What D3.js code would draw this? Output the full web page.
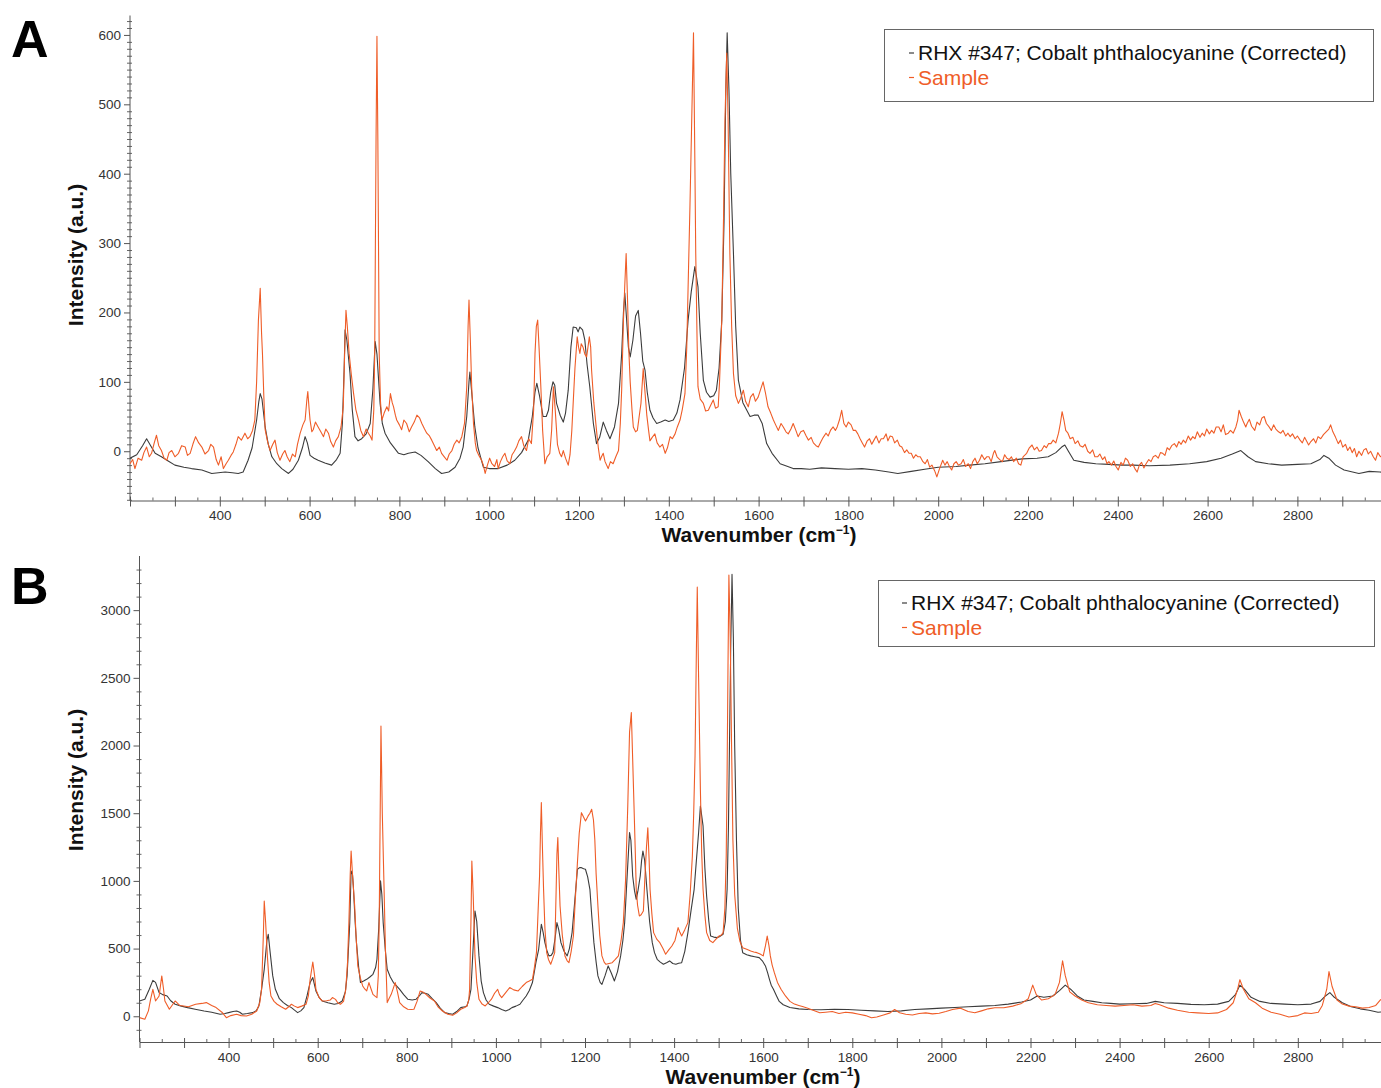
<!DOCTYPE html>
<html>
<head>
<meta charset="utf-8">
<script src="https://cdn.jsdelivr.net/npm/d3@7"></script>
<style>
  html, body { margin: 0; padding: 0; background: #fff; overflow: hidden; }
  svg { display: block; font-family: "Liberation Sans", Arial, Helvetica, sans-serif; }
</style>
</head>
<body>
<svg id="chart" width="1381" height="1088"></svg>
<script>
// ---------------- DATA ----------------
const seriesNames = ["RHX #347; Cobalt phthalocyanine (Corrected)", "Sample"];
const xAxisTitle = "Wavenumber (cm";
const yAxisTitle = "Intensity (a.u.)";
const panelLabels = ["A", "B"];
const xDomain = [200, 3000];
const xMajorTicks = [200,300,400,500,600,700,800,900,1000,1100,1200,1300,1400,1500,1600,1700,1800,1900,2000,2100,2200,2300,2400,2500,2600,2700,2800,2900,3000];
const xTickLabels = [400,600,800,1000,1200,1400,1600,1800,2000,2200,2400,2600,2800];
const aYTickLabels = [0,100,200,300,400,500,600];
const bYTickLabels = [0,500,1000,1500,2000,2500,3000];
const aYDomain = [-71, 628];
const bYDomain = [-190, 3400];

// Panel A, reference spectrum (black): [wavenumber, intensity]
const aRef = [[200,-10],[215,-5],[228,8],[237,18],[246,8],[256,-3],[270,-8],[285,-14],[300,-20],[320,-23],[337,-25],[360,-27],[382,-32],[397,-31],[412,-30],[428,-31],[441,-32],[452,-30],[463,-13],[472,5],[482,45],[487,72],[490,83],[494,75],[501,35],[508,10],[516,-8],[527,-18],[538,-25],[553,-32],[563,-26],[575,-13],[584,5],[590,21],[595,12],[601,-6],[610,-10],[619,-13],[634,-17],[649,-20],[660,-12],[668,-3],[673,40],[677,120],[679,175],[683,160],[690,112],[695,60],[701,21],[708,15],[716,18],[726,25],[735,40],[741,90],[746,158],[750,140],[757,69],[762,40],[768,26],[780,12],[798,-3],[810,-5],[820,-3],[835,-1],[848,-6],[864,-15],[880,-25],[894,-32],[910,-30],[924,-23],[935,-10],[942,6],[950,50],[955,100],[957,114],[961,85],[968,35],[975,5],[987,-23],[1000,-25],[1020,-25],[1040,-20],[1057,-13],[1072,-2],[1087,16],[1096,50],[1102,85],[1106,98],[1112,80],[1120,50],[1127,50],[1132,59],[1137,85],[1142,100],[1146,95],[1150,69],[1158,52],[1165,42],[1170,55],[1176,88],[1182,150],[1187,179],[1194,178],[1198,172],[1202,179],[1208,175],[1213,160],[1218,125],[1224,93],[1232,40],[1239,11],[1246,20],[1254,42],[1261,30],[1269,18],[1279,35],[1288,69],[1295,140],[1299,200],[1302,228],[1306,190],[1310,150],[1314,136],[1320,160],[1326,195],[1332,203],[1337,170],[1342,130],[1347,117],[1352,85],[1358,59],[1365,48],[1373,40],[1382,42],[1392,45],[1400,43],[1410,45],[1418,55],[1425,74],[1435,120],[1443,189],[1450,230],[1458,266],[1462,250],[1465,237],[1470,170],[1477,102],[1484,85],[1492,78],[1500,80],[1506,88],[1512,120],[1518,189],[1523,330],[1527,520],[1530,603],[1534,520],[1538,400],[1544,285],[1549,180],[1555,102],[1565,70],[1581,50],[1590,52],[1599,52],[1608,40],[1618,11],[1630,-3],[1648,-18],[1665,-22],[1677,-25],[1695,-25],[1714,-26],[1740,-24],[1770,-25],[1800,-26],[1830,-25],[1860,-27],[1890,-30],[1910,-32],[1940,-29],[1970,-26],[2000,-23],[2040,-22],[2070,-20],[2104,-18],[2140,-15],[2187,-11],[2220,-10],[2245,-8],[2262,-2],[2275,6],[2282,9],[2290,0],[2302,-13],[2325,-16],[2351,-18],[2380,-19],[2410,-20],[2434,-20],[2470,-21],[2516,-20],[2560,-18],[2598,-15],[2630,-10],[2655,-4],[2674,1],[2690,-8],[2707,-15],[2735,-18],[2765,-20],[2800,-19],[2830,-18],[2850,-12],[2859,-6],[2870,-10],[2885,-20],[2904,-27],[2937,-32],[2960,-29],[2984,-30],[3000,-31]];

// Panel A, sample spectrum (orange)
const aSam = [[200,-18],[206,-12],[211,-25],[218,-10],[226,-13],[231,-2],[237,6],[243,-8],[248,-3],[254,12],[259,23],[264,8],[270,1],[276,-10],[282,-13],[287,-2],[293,1],[300,-8],[308,-3],[315,8],[323,6],[328,-6],[334,-3],[340,10],[346,21],[353,12],[360,6],[367,-4],[375,1],[380,10],[386,6],[392,-12],[397,-20],[403,-8],[408,-25],[414,-18],[419,-13],[425,-6],[430,-1],[436,10],[441,21],[448,16],[456,26],[462,18],[467,21],[473,30],[478,45],[482,100],[486,189],[490,235],[493,170],[495,141],[498,80],[501,31],[506,15],[512,1],[518,10],[523,16],[528,-2],[534,-13],[540,-4],[545,1],[550,-8],[556,-15],[562,-4],[568,-8],[573,10],[579,26],[585,38],[590,45],[594,75],[596,86],[599,60],[601,45],[605,28],[608,31],[613,42],[619,35],[625,28],[631,21],[636,32],[642,26],[647,14],[653,6],[658,15],[664,21],[670,35],[675,64],[678,140],[681,203],[684,180],[688,141],[693,110],[698,83],[703,60],[709,45],[714,30],[720,21],[726,32],[731,26],[735,22],[739,16],[743,60],[745,141],[748,450],[750,598],[752,450],[755,141],[758,70],[761,45],[766,55],[772,64],[776,58],[780,83],[784,70],[787,64],[791,52],[794,45],[800,38],[805,31],[810,45],[816,40],[822,28],[827,35],[833,42],[839,52],[845,48],[850,40],[856,32],[861,26],[867,22],[872,16],[878,8],[883,1],[889,6],[894,-3],[900,-8],[906,-13],[911,-4],[917,1],[922,10],[928,16],[933,12],[939,21],[945,40],[950,93],[953,180],[955,218],[958,160],[961,93],[965,40],[969,12],[972,1],[977,-6],[983,-13],[987,-20],[991,-32],[996,-20],[1001,-10],[1006,-18],[1012,-22],[1017,-12],[1020,-25],[1025,-15],[1030,-8],[1035,-3],[1040,-14],[1046,-18],[1051,-5],[1056,0],[1061,6],[1066,15],[1072,21],[1077,8],[1083,1],[1088,18],[1094,11],[1099,60],[1102,141],[1105,180],[1108,189],[1111,150],[1115,93],[1119,30],[1124,-18],[1129,-8],[1135,-3],[1139,30],[1143,93],[1147,60],[1152,10],[1157,-3],[1161,-8],[1165,1],[1170,-10],[1176,-20],[1180,-5],[1184,30],[1187,69],[1191,120],[1196,165],[1199,150],[1202,141],[1205,155],[1209,150],[1213,140],[1217,136],[1220,150],[1223,165],[1226,150],[1228,117],[1233,70],[1239,30],[1243,5],[1247,-13],[1250,-8],[1254,-3],[1258,-15],[1265,-25],[1270,-15],[1276,-18],[1282,-8],[1288,1],[1292,40],[1295,88],[1299,189],[1302,240],[1305,285],[1308,220],[1311,145],[1314,100],[1318,60],[1321,35],[1326,28],[1330,30],[1334,50],[1338,69],[1343,119],[1347,85],[1351,52],[1355,30],[1358,15],[1363,20],[1369,25],[1374,12],[1380,6],[1386,10],[1392,-3],[1397,5],[1403,21],[1408,18],[1414,25],[1419,35],[1425,45],[1430,60],[1436,83],[1440,150],[1443,237],[1447,350],[1451,476],[1455,603],[1458,420],[1460,285],[1463,160],[1465,93],[1470,75],[1477,69],[1482,58],[1488,59],[1493,66],[1499,74],[1504,62],[1510,64],[1513,100],[1518,189],[1522,340],[1525,476],[1529,574],[1532,480],[1536,285],[1540,180],[1544,112],[1549,80],[1555,69],[1560,76],[1566,88],[1571,72],[1577,64],[1582,78],[1588,83],[1593,72],[1599,78],[1604,88],[1610,100],[1615,85],[1621,64],[1627,55],[1633,45],[1638,38],[1644,30],[1650,40],[1655,35],[1661,28],[1666,25],[1672,32],[1677,40],[1683,30],[1688,21],[1694,28],[1700,30],[1706,22],[1711,16],[1717,20],[1722,12],[1728,8],[1733,6],[1739,14],[1744,20],[1750,26],[1755,22],[1760,30],[1766,35],[1771,30],[1775,35],[1780,45],[1785,59],[1790,40],[1795,35],[1800,42],[1806,38],[1811,30],[1816,30],[1821,25],[1826,18],[1831,12],[1836,6],[1842,15],[1847,18],[1852,10],[1857,16],[1862,22],[1868,12],[1873,18],[1878,18],[1884,25],[1888,15],[1893,22],[1898,21],[1903,12],[1909,16],[1914,8],[1919,6],[1925,-2],[1930,2],[1935,-3],[1940,-3],[1945,-10],[1950,-5],[1955,-8],[1960,-8],[1966,-15],[1971,-18],[1976,-12],[1981,-23],[1986,-20],[1992,-28],[1997,-37],[2003,-25],[2010,-13],[2015,-20],[2020,-15],[2025,-22],[2030,-27],[2035,-18],[2040,-15],[2045,-20],[2051,-18],[2056,-12],[2061,-22],[2067,-18],[2072,-25],[2077,-15],[2082,-10],[2087,-18],[2092,-13],[2097,-5],[2103,-12],[2108,-8],[2113,-8],[2118,-15],[2123,-3],[2126,1],[2131,-8],[2137,-12],[2143,-15],[2148,-5],[2153,-10],[2158,-12],[2163,-8],[2168,-15],[2174,-10],[2179,-18],[2184,-20],[2189,-8],[2194,-5],[2197,-3],[2203,5],[2209,9],[2214,2],[2220,6],[2225,0],[2230,1],[2236,8],[2241,5],[2246,11],[2251,11],[2256,16],[2262,12],[2268,26],[2272,40],[2276,57],[2280,45],[2284,30],[2289,26],[2294,18],[2300,20],[2305,11],[2311,15],[2316,8],[2322,6],[2327,10],[2333,0],[2338,-3],[2344,2],[2349,-8],[2355,-8],[2360,-4],[2366,-12],[2371,-8],[2376,-18],[2380,-15],[2386,-20],[2391,-14],[2396,-22],[2401,-27],[2407,-16],[2412,-20],[2417,-10],[2422,-13],[2428,-22],[2433,-18],[2438,-25],[2443,-30],[2448,-20],[2453,-16],[2458,-24],[2463,-18],[2469,-12],[2474,-15],[2479,-8],[2484,-6],[2490,-10],[2495,-2],[2500,-3],[2505,-6],[2510,5],[2515,2],[2520,8],[2526,11],[2531,6],[2536,14],[2541,10],[2546,16],[2551,12],[2557,22],[2562,16],[2567,21],[2572,18],[2577,28],[2583,20],[2588,26],[2593,22],[2598,32],[2604,25],[2609,30],[2614,26],[2619,35],[2625,35],[2630,28],[2635,38],[2640,24],[2646,26],[2651,30],[2657,26],[2663,35],[2667,45],[2670,59],[2675,50],[2680,42],[2685,35],[2688,40],[2693,46],[2698,36],[2705,30],[2710,42],[2716,38],[2721,48],[2726,50],[2731,40],[2737,35],[2742,30],[2747,38],[2752,32],[2758,28],[2763,26],[2768,30],[2774,22],[2779,26],[2784,21],[2789,25],[2795,18],[2800,22],[2806,16],[2811,12],[2816,20],[2821,14],[2825,9],[2830,14],[2836,18],[2841,12],[2846,21],[2852,18],[2858,24],[2864,28],[2870,32],[2874,38],[2879,28],[2885,20],[2891,11],[2896,16],[2901,6],[2907,10],[2912,1],[2917,6],[2922,-2],[2927,4],[2932,-8],[2937,0],[2943,-6],[2948,2],[2953,4],[2958,-4],[2963,0],[2969,-8],[2974,-13],[2979,-2],[2985,-8],[2990,-6],[2995,-10],[3000,-8]];

// Panel B, reference spectrum (black)
const bRef = [[200,113],[212,126],[222,200],[230,265],[236,250],[244,175],[252,160],[262,150],[270,115],[280,89],[294,75],[308,64],[325,52],[345,39],[362,30],[381,15],[392,20],[400,27],[410,35],[418,39],[425,30],[431,15],[442,20],[454,27],[462,40],[468,76],[474,200],[480,347],[486,560],[489,606],[493,480],[499,300],[505,199],[514,130],[523,101],[532,80],[541,64],[548,45],[555,27],[562,40],[569,64],[576,150],[583,249],[589,286],[596,187],[603,140],[610,113],[623,100],[637,89],[646,95],[655,113],[662,180],[666,300],[672,692],[675,1073],[678,1050],[680,963],[684,700],[687,544],[692,360],[696,249],[703,260],[710,273],[717,290],[724,310],[730,360],[733,421],[737,650],[741,1000],[744,900],[747,692],[752,480],[756,347],[763,290],[770,249],[777,225],[784,199],[793,160],[802,126],[812,120],[821,126],[828,150],[834,175],[841,170],[848,162],[857,130],[866,101],[875,60],[885,27],[894,20],[903,15],[912,35],[921,64],[930,70],[935,76],[940,130],[944,199],[948,450],[953,778],[957,700],[962,446],[967,260],[972,175],[978,120],[985,89],[995,75],[1004,64],[1013,50],[1022,39],[1030,50],[1036,64],[1045,75],[1054,89],[1061,120],[1068,150],[1075,190],[1082,249],[1090,400],[1096,495],[1102,680],[1106,620],[1110,544],[1115,480],[1119,446],[1124,450],[1128,470],[1133,580],[1137,692],[1141,640],[1146,544],[1153,480],[1160,446],[1165,500],[1171,618],[1177,850],[1183,1086],[1188,1098],[1192,1098],[1197,1090],[1201,1086],[1206,1030],[1211,938],[1215,750],[1220,544],[1225,400],[1229,298],[1234,250],[1238,236],[1245,300],[1252,372],[1259,320],[1266,261],[1273,330],[1280,446],[1285,560],[1289,692],[1294,1000],[1300,1357],[1303,1300],[1307,1036],[1311,930],[1315,864],[1319,930],[1324,1036],[1327,1150],[1330,1221],[1334,1150],[1339,938],[1345,700],[1351,544],[1356,470],[1362,421],[1369,400],[1376,384],[1383,395],[1390,409],[1397,390],[1404,384],[1410,392],[1417,396],[1424,480],[1431,618],[1438,780],[1445,938],[1450,1150],[1455,1357],[1459,1553],[1462,1480],[1465,1406],[1469,1100],[1473,889],[1478,700],[1482,593],[1489,585],[1496,581],[1503,590],[1510,606],[1515,700],[1519,938],[1522,1400],[1524,1923],[1527,2700],[1530,3264],[1533,2800],[1536,2000],[1540,1300],[1544,800],[1549,560],[1554,470],[1563,455],[1572,446],[1581,440],[1591,433],[1598,410],[1605,372],[1610,320],[1614,273],[1618,230],[1623,199],[1630,150],[1636,110],[1645,85],[1660,65],[1680,55],[1700,50],[1730,48],[1760,52],[1790,50],[1820,44],[1850,40],[1880,35],[1910,40],[1940,50],[1970,55],[2000,60],[2030,65],[2060,70],[2090,75],[2120,80],[2150,90],[2180,105],[2200,120],[2215,150],[2230,140],[2250,150],[2265,190],[2278,230],[2290,200],[2305,150],[2320,120],[2340,110],[2360,100],[2380,95],[2400,90],[2430,92],[2460,95],[2480,110],[2500,100],[2530,95],[2560,88],[2590,85],[2620,90],[2645,110],[2660,160],[2670,230],[2680,200],[2695,140],[2715,110],[2740,95],[2770,90],[2800,85],[2830,90],[2850,110],[2862,150],[2872,175],[2882,140],[2900,100],[2920,70],[2940,55],[2960,45],[2980,30],[3000,35]];

// Panel B, sample spectrum (orange)
const bSam = [[200,-10],[212,-22],[220,40],[225,126],[230,199],[236,113],[244,150],[250,298],[254,200],[257,113],[267,52],[280,113],[290,80],[299,76],[310,70],[326,89],[340,95],[350,101],[362,80],[372,64],[385,30],[395,-10],[405,5],[418,15],[428,5],[440,2],[452,15],[463,39],[470,100],[474,199],[478,600],[480,852],[483,700],[487,446],[491,250],[495,150],[502,110],[509,89],[518,70],[528,52],[535,70],[541,89],[548,75],[555,64],[564,75],[574,89],[579,150],[583,273],[589,401],[593,300],[596,199],[603,140],[610,113],[620,115],[628,120],[633,138],[640,125],[645,100],[651,89],[658,110],[663,199],[667,400],[670,692],[673,1050],[675,1221],[679,1000],[683,815],[686,600],[690,372],[696,280],[701,224],[706,200],[710,187],[715,249],[720,200],[724,162],[730,145],[733,138],[736,300],[738,692],[740,1400],[742,2144],[745,1500],[749,938],[752,500],[756,101],[760,130],[765,162],[770,210],[774,249],[779,180],[784,101],[793,70],[802,52],[810,50],[816,52],[823,110],[830,187],[836,180],[843,162],[852,135],[862,113],[870,70],[880,39],[892,15],[903,7],[912,25],[921,52],[930,65],[935,76],[939,120],[941,199],[944,700],[946,1147],[949,900],[953,446],[957,250],[962,126],[969,90],[976,76],[983,100],[990,126],[997,170],[1004,199],[1008,160],[1013,138],[1022,175],[1031,212],[1040,195],[1050,187],[1059,220],[1068,249],[1075,260],[1082,273],[1086,350],[1091,470],[1095,800],[1098,1036],[1100,1350],[1102,1578],[1104,1300],[1107,938],[1110,650],[1114,470],[1118,420],[1123,384],[1127,420],[1132,470],[1135,900],[1137,1200],[1139,1320],[1141,1100],[1144,815],[1149,600],[1155,446],[1160,410],[1164,396],[1169,480],[1174,593],[1178,850],[1183,1135],[1187,1350],[1192,1504],[1197,1470],[1201,1443],[1204,1460],[1207,1480],[1211,1500],[1215,1529],[1219,1450],[1222,1307],[1225,1050],[1229,815],[1233,600],[1238,446],[1243,400],[1247,384],[1254,390],[1261,396],[1268,420],[1275,446],[1281,560],[1286,692],[1291,1000],[1296,1553],[1300,2100],[1304,2243],[1307,1900],[1310,1553],[1313,1200],[1315,938],[1318,820],[1322,741],[1326,750],[1331,778],[1335,1061],[1338,1250],[1341,1393],[1344,1150],[1346,938],[1350,760],[1354,618],[1361,570],[1368,544],[1375,500],[1381,458],[1388,490],[1395,519],[1402,560],[1409,655],[1413,620],[1417,593],[1424,640],[1431,692],[1436,900],[1441,1184],[1444,1500],[1447,1923],[1450,2700],[1452,3170],[1455,2500],[1459,1677],[1462,1200],[1465,938],[1469,750],[1473,618],[1480,560],[1487,544],[1494,570],[1501,593],[1506,600],[1510,618],[1514,800],[1517,1184],[1519,1800],[1521,2600],[1523,3260],[1526,2800],[1529,2000],[1532,1300],[1536,900],[1542,650],[1548,550],[1554,507],[1563,495],[1572,482],[1579,475],[1586,470],[1593,460],[1600,446],[1605,520],[1609,593],[1613,520],[1616,446],[1620,380],[1625,322],[1632,250],[1640,200],[1650,150],[1660,110],[1670,90],[1680,80],[1690,70],[1700,60],[1712,45],[1727,26],[1740,30],[1755,35],[1770,20],[1785,30],[1800,25],[1815,15],[1830,5],[1843,-11],[1855,-5],[1870,10],[1885,25],[1895,50],[1906,26],[1920,15],[1935,10],[1950,20],[1965,25],[1980,18],[1995,22],[2010,35],[2025,50],[2043,60],[2060,35],[2075,26],[2090,40],[2105,55],[2120,63],[2140,63],[2160,75],[2180,95],[2195,130],[2205,230],[2213,160],[2225,120],[2240,130],[2255,160],[2265,250],[2272,410],[2278,300],[2288,180],[2300,150],[2315,120],[2330,100],[2350,85],[2370,80],[2390,75],[2410,80],[2430,85],[2450,75],[2470,80],[2480,95],[2490,85],[2510,60],[2530,45],[2555,30],[2575,25],[2600,20],[2620,25],[2640,50],[2655,100],[2665,200],[2670,270],[2678,200],[2690,130],[2705,100],[2720,60],[2740,30],[2760,15],[2780,-5],[2800,5],[2815,25],[2830,20],[2846,30],[2855,80],[2865,200],[2870,330],[2877,220],[2888,120],[2900,90],[2915,75],[2930,70],[2945,60],[2960,65],[2975,80],[2985,120],[2992,130],[3000,110]];

// ---------------- DRAWING ----------------
const REF_COLOR = "#3c3c3c";
const SAM_COLOR = "#ef5d28";
const svg = d3.select("#chart");
svg.append("rect").attr("width", 1381).attr("height", 1088).attr("fill", "#fff");

function drawPanel(cfg) {
  const g = svg.append("g");
  const x = d3.scaleLinear().domain(xDomain).range([cfg.left, cfg.left + (xDomain[1] - xDomain[0]) * cfg.xk]);
  const y = d3.scaleLinear().domain(cfg.yDomain).range([cfg.bottom, cfg.top]);

  const clipId = "clip" + cfg.label;
  svg.append("clipPath").attr("id", clipId).append("rect")
    .attr("x", cfg.left).attr("y", cfg.top - 2)
    .attr("width", 1381 - cfg.left).attr("height", cfg.bottom - cfg.top + 2);

  // minor ticks on y
  const yMinor = d3.range(Math.ceil(cfg.yDomain[0] / cfg.yMinorStep) * cfg.yMinorStep, cfg.yDomain[1], cfg.yMinorStep)
    .filter(v => !cfg.yLabels.includes(v));
  g.append("g").attr("transform", `translate(${cfg.left},0)`)
    .call(d3.axisLeft(y).tickValues(yMinor).tickSize(3).tickFormat(""))
    .call(a => a.select(".domain").remove())
    .call(a => a.selectAll("line").attr("stroke", "#666").attr("x2", -3).attr("x1", 2));

  // major y ticks with labels
  const yAx = g.append("g").attr("transform", `translate(${cfg.left},0)`)
    .call(d3.axisLeft(y).tickValues(cfg.yLabels).tickSize(6).tickSizeOuter(0).tickPadding(3)
      .tickFormat(d3.format("d")));
  yAx.select(".domain").attr("stroke", "#555").attr("d", `M0,${cfg.top}V${cfg.bottom}`);
  yAx.selectAll(".tick line").attr("stroke", "#555");
  yAx.selectAll("text").attr("font-size", 13.5).attr("fill", "#333")
    .attr("font-family", "'Liberation Sans', Arial, sans-serif");

  // x minor ticks (every 50)
  const xMinor = d3.range(250, 3000, 100);
  g.append("g").attr("transform", `translate(0,${cfg.bottom})`)
    .call(d3.axisBottom(x).tickValues(xMinor).tickSize(3).tickFormat(""))
    .call(a => a.select(".domain").remove())
    .call(a => a.selectAll("line").attr("stroke", "#666").attr("y1", -3).attr("y2", 0));

  // x major ticks
  const xAx = g.append("g").attr("transform", `translate(0,${cfg.bottom})`)
    .call(d3.axisBottom(x).tickValues(xMajorTicks).tickSize(6).tickSizeOuter(0).tickPadding(4)
      .tickFormat(d => xTickLabels.includes(d) ? d : ""));
  xAx.select(".domain").attr("stroke", "#555");
  xAx.selectAll(".tick line").attr("stroke", "#555").attr("y1", -4);
  xAx.selectAll("text").attr("font-size", 13.5).attr("fill", "#333")
    .attr("font-family", "'Liberation Sans', Arial, sans-serif");

  // lines
  const line = d3.line().x(d => x(d[0])).y(d => y(d[1]));
  const plot = g.append("g").attr("clip-path", `url(#${clipId})`);
  plot.append("path").datum(cfg.ref).attr("d", line)
    .attr("fill", "none").attr("stroke", REF_COLOR).attr("stroke-width", 1.1).attr("stroke-linejoin", "round");
  plot.append("path").datum(cfg.sam).attr("d", line)
    .attr("fill", "none").attr("stroke", SAM_COLOR).attr("stroke-width", 1.1).attr("stroke-linejoin", "round");

  // axis titles
  const xt = g.append("text").attr("x", cfg.xTitleX).attr("y", cfg.xTitleY)
    .attr("text-anchor", "middle").attr("font-weight", "bold").attr("font-size", 21).attr("fill", "#111");
  xt.append("tspan").text(xAxisTitle);
  xt.append("tspan").attr("dy", -8).attr("font-size", 12).text("\u22121");
  xt.append("tspan").attr("dy", 8).text(")");

  g.append("text").attr("transform", `translate(${cfg.yTitleX},${cfg.yTitleY}) rotate(-90)`)
    .attr("text-anchor", "middle").attr("font-weight", "bold").attr("font-size", 21).attr("fill", "#111")
    .text(yAxisTitle);

  // panel label
  g.append("text").attr("x", 11).attr("y", cfg.labelY).attr("font-weight", "bold")
    .attr("font-size", 52).attr("fill", "#000").text(cfg.label);

  // legend
  const lg = g.append("g");
  lg.append("rect").attr("x", cfg.legX + 0.5).attr("y", cfg.legY + 0.5).attr("width", cfg.legW).attr("height", cfg.legH)
    .attr("fill", "#fff").attr("stroke", "#666").attr("stroke-width", 1);
  const colors = [REF_COLOR, SAM_COLOR];
  seriesNames.forEach((name, i) => {
    const by = cfg.legY + cfg.legBase + i * 24.5;
    lg.append("line").attr("x1", cfg.legTextX - 9).attr("x2", cfg.legTextX - 4)
      .attr("y1", by - 7).attr("y2", by - 7).attr("stroke", colors[i]).attr("stroke-width", 1.2);
    lg.append("text").attr("x", cfg.legTextX).attr("y", by).attr("font-size", 21)
      .attr("fill", i === 0 ? "#111" : SAM_COLOR).text(name);
  });
}

drawPanel({
  label: panelLabels[0], labelY: 57,
  left: 130, xk: 0.449, top: 15.5, bottom: 500.5, yDomain: aYDomain,
  yLabels: aYTickLabels, yMinorStep: 10,
  ref: aRef, sam: aSam,
  xTitleX: 759, xTitleY: 542, yTitleX: 83, yTitleY: 255,
  legX: 884, legY: 29, legW: 489, legH: 72, legTextX: 918, legBase: 31
});

drawPanel({
  label: panelLabels[1], labelY: 604,
  left: 139.5, xk: 0.4455, top: 556, bottom: 1042, yDomain: bYDomain,
  yLabels: bYTickLabels, yMinorStep: 100,
  ref: bRef, sam: bSam,
  xTitleX: 763, xTitleY: 1084, yTitleX: 83, yTitleY: 780,
  legX: 878, legY: 580, legW: 496, legH: 66, legTextX: 911, legBase: 30
});
</script>
</body>
</html>
